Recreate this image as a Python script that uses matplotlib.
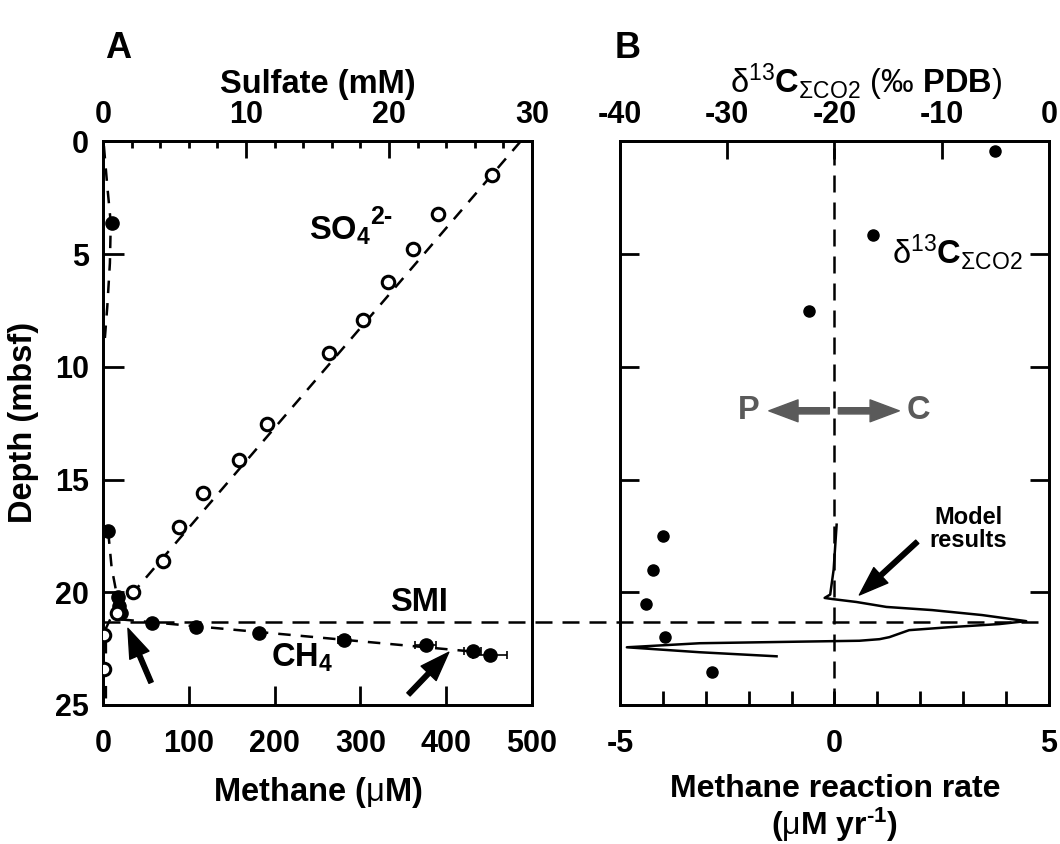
import matplotlib
matplotlib.use('Agg')
import matplotlib.pyplot as plt
from matplotlib import transforms
from matplotlib.lines import Line2D

plt.rcParams['font.family'] = ['Liberation Sans', 'DejaVu Sans']
plt.rcParams['font.weight'] = 'bold'
plt.rcParams['font.size'] = 22
plt.rcParams['mathtext.fontset'] = 'custom'
plt.rcParams['mathtext.rm'] = 'Liberation Sans:weight=normal'
plt.rcParams['mathtext.it'] = 'Liberation Sans:italic:weight=normal'
plt.rcParams['mathtext.bf'] = 'Liberation Sans:weight=bold'
plt.rcParams['axes.unicode_minus'] = False
plt.rcParams['axes.linewidth'] = 2

# ---- panel A : sulfate (mM, top axis) and methane (uM, bottom axis) ----
sulfate_depth = [1.5, 3.2, 4.75, 6.25, 7.9, 9.4, 12.55, 14.15, 15.6, 17.1, 18.6, 20.0, 20.9, 21.9, 23.4]
sulfate_mM = [27.2, 23.4, 21.7, 19.9, 18.2, 15.8, 11.5, 9.5, 7.0, 5.3, 4.2, 2.1, 1.0, 0.1, 0.1]
sulfate_fit_depth = [0, 21.2, 21.6, 24.8]
sulfate_fit_mM = [29.2, 0.5, 0.2, 0.2]

methane_depth = [3.6, 17.3, 20.2, 20.6, 20.9, 21.35, 21.55, 21.8, 22.1, 22.35, 22.6, 22.8]
methane_uM = [10, 6, 18, 19, 21, 57, 108, 182, 281, 376, 431, 451]
methane_err = [0, 0, 0, 0, 0, 0, 0, 0, 7, 12, 10, 20]
methane_fit_top_depth = [0.2, 2.0, 3.6, 5.4, 7.3, 8.8]
methane_fit_top_uM = [1, 5, 9, 8, 5, 2]
methane_fit_low_depth = [17.3, 18.9, 20.3, 21.2, 22.62]
methane_fit_low_uM = [6, 10, 17, 20, 428]

smi_depth = 21.3

# ---- panel B : d13C of sum CO2 (top axis) and model methane reaction rate ----
d13c_depth = [0.42, 4.17, 7.5, 17.5, 19.0, 20.5, 22.0, 23.55]
d13c_permil = [-5.0, -16.4, -22.4, -36.0, -36.9, -37.6, -35.8, -31.4]

rate_depth = [17.0, 19.0, 20.1, 20.25, 20.30, 20.43, 20.65, 20.79, 21.01, 21.28, 21.41,
              21.55, 21.68, 21.99, 22.08, 22.15, 22.19, 22.26, 22.44, 22.66, 22.84]
rate_uM_yr = [0.05, -0.02, -0.1, -0.23, -0.05, 0.51, 1.21, 2.28, 3.44, 4.47, 3.84,
              2.67, 1.74, 1.28, 1.05, 0.58, -0.81, -3.14, -4.84, -3.14, -1.35]

gray = '#5a5a5a'
dash_style = dict(color='k', lw=1.8, ls=(0, (5, 4)))
ref_style = dict(color='k', lw=1.8, ls=(0, (6.8, 4)))  # SMI and zero-rate lines
arrow_k = dict(arrowstyle='simple,head_length=1.4,head_width=1.0,tail_width=0.22',
               color='k', mutation_scale=15, shrinkA=0, shrinkB=0)
arrow_g = dict(arrowstyle='simple,head_length=1.4,head_width=1.05,tail_width=0.3',
               color=gray, mutation_scale=15, shrinkA=0, shrinkB=0)
label_size = 23.5

fig = plt.figure(figsize=(10.6, 8.44), dpi=100)
axA = fig.add_axes([0.0972, 0.1647, 0.4047, 0.6677])
axA_top = axA.twiny()
axB = fig.add_axes([0.5849, 0.1647, 0.4047, 0.6677])
axB_top = axB.twiny()

# panel A
axA.plot(methane_fit_top_uM, methane_fit_top_depth, **dash_style)
axA.plot(methane_fit_low_uM, methane_fit_low_depth, **dash_style)
axA.errorbar(methane_uM, methane_depth, xerr=methane_err, fmt='o', color='k', ms=9.5,
             capsize=3, elinewidth=1.2, capthick=1.2, zorder=4)
axA_top.plot(sulfate_fit_mM, sulfate_fit_depth, **dash_style)
axA_top.plot(sulfate_mM, sulfate_depth, 'o', mfc='white', mec='k', ms=9, mew=2.2, zorder=4)

axA.set_xlim(0, 500)
axA.set_ylim(25, 0)
axA.set_xticks(range(0, 501, 100))
axA.set_yticks(range(0, 26, 5))
axA.tick_params(axis='x', direction='in', length=14, width=2, pad=17)
axA.tick_params(axis='y', direction='in', length=15, width=2, pad=10)
axA_top.set_xlim(0, 30)
axA_top.set_xticks([0, 10, 20, 30])
axA_top.set_xticks(range(0, 31, 2), minor=True)
axA_top.tick_params(axis='x', which='major', direction='in', length=12, width=2, pad=8)
axA_top.tick_params(axis='x', which='minor', direction='in', length=5, width=2)

axA.text(276, 3.95, r'SO$_\mathbf{4}$', fontsize=label_size, ha='center', va='center')
axA.annotate('2-', xy=(276, 3.95), xytext=(22, 10), textcoords='offset points',
             fontsize=18, ha='left', va='center')
axA.text(368, 20.45, 'SMI', fontsize=label_size, ha='center', va='center')
axA.text(232, 22.9, r'CH$_\mathbf{4}$', fontsize=label_size, ha='center', va='center')
axA.annotate('', xy=(29, 21.6), xytext=(56, 24.0), arrowprops=arrow_k)
axA.annotate('', xy=(403, 22.66), xytext=(356, 24.53), arrowprops=arrow_k)

# panel B
axB.axvline(0, **ref_style)
axB.plot(rate_uM_yr, rate_depth, color='k', lw=1.8)
axB_top.plot(d13c_permil, d13c_depth, 'o', color='k', ms=8)

axB.set_xlim(-5, 5)
axB.set_ylim(25, 0)
axB.set_xticks([-5, 0, 5])
axB.set_xticks(range(-5, 6), minor=True)
axB.set_yticks(range(0, 26, 5))
axB.tick_params(axis='x', which='both', direction='in', length=10, width=2, pad=17)
axB.tick_params(axis='y', direction='in', length=14, width=2, left=True, right=True,
                labelleft=False)
axB_top.set_xlim(-40, 0)
axB_top.set_xticks(range(-40, 1, 10))
axB_top.tick_params(axis='x', direction='in', length=13, width=2, pad=8)

axB.text(2.86, 4.92, r'$\mathrm{\delta^{13}}\mathbf{C}_{\mathrm{\Sigma CO2}}$',
         fontsize=label_size, ha='center', va='center')
axB.text(-2.0, 11.92, 'P', color=gray, fontsize=label_size, ha='center', va='center')
axB.text(1.95, 11.92, 'C', color=gray, fontsize=label_size, ha='center', va='center')
axB.annotate('', xy=(-1.53, 11.95), xytext=(-0.12, 11.95), arrowprops=arrow_g)
axB.annotate('', xy=(1.51, 11.95), xytext=(0.09, 11.95), arrowprops=arrow_g)
axB.text(3.12, 17.18, 'Model\nresults', fontsize=17, ha='center', va='center', linespacing=1.0)
axB.annotate('', xy=(0.58, 20.12), xytext=(1.93, 17.76), arrowprops=arrow_k)

# SMI dashed line running through both panels
trans = transforms.blended_transform_factory(fig.transFigure, axA.transData)
fig.add_artist(Line2D([0.0972, 0.9896], [smi_depth, smi_depth], transform=trans, **ref_style))

# labels
fig.text(118 / 1060, 1 - 48 / 844, 'A', fontsize=26, ha='center', va='center')
fig.text(628 / 1060, 1 - 48 / 844, 'B', fontsize=26, ha='center', va='center')
fig.text(318 / 1060, 1 - 84 / 844, 'Sulfate (mM)', fontsize=label_size, ha='center', va='center')
fig.text(866 / 1060, 1 - 82 / 844,
         r'$\mathrm{\delta^{13}}\mathbf{C}_{\mathrm{\Sigma CO2}}$ (‰ $\mathbf{PDB}$)',
         fontsize=label_size, fontweight='normal', ha='center', va='center')
fig.text(318 / 1060, 1 - 793 / 844, r'Methane ($\mathrm{\mu}$M)', fontsize=label_size,
         ha='center', va='center')
fig.text(835 / 1060, 1 - 809 / 844,
         'Methane reaction rate\n' + r'($\mathrm{\mu}$M yr$^\mathbf{‐1}$)',
         fontsize=23, ha='center', va='center', linespacing=1.05)
fig.text(24 / 1060, 1 - 422 / 844, 'Depth (mbsf)', fontsize=label_size, rotation=90,
         ha='center', va='center')

fig.savefig('out.png', dpi=100)
